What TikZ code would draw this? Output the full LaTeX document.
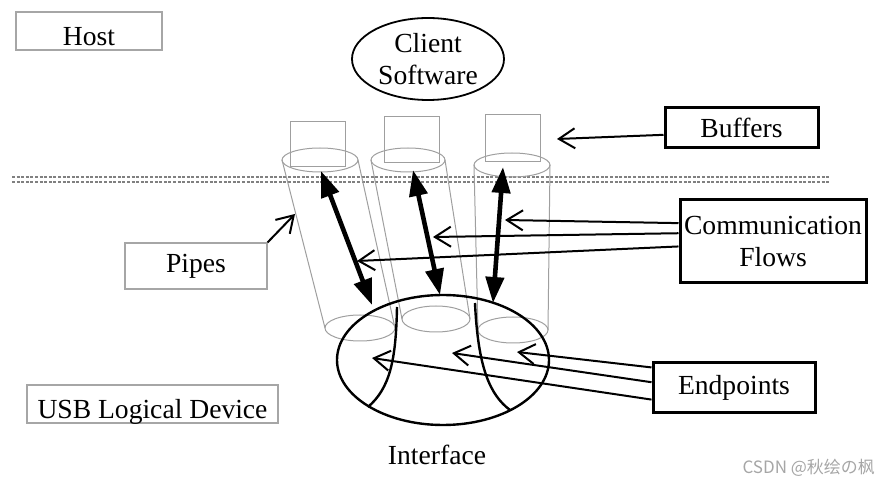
\documentclass[tikz,border=0pt]{standalone}
\usepackage{fontspec}
\setmainfont{Liberation Serif}
\newfontfamily\cjkfont{Noto Sans CJK SC}
\usetikzlibrary{arrows.meta,positioning,shapes.geometric}

\begin{document}
\begin{tikzpicture}[x=0.5pt, y=-0.5pt,
  font=\fontsize{13.8pt}{16pt}\selectfont,
  graybox/.style={draw=gray!70, line width=.6pt, inner sep=0pt},
  lowtext/.style={text height=15pt, text depth=0pt},
  blackbox/.style={draw, line width=1.5pt, inner sep=0pt, align=center},
  pipeline/.style={draw=gray!75, line width=.5pt},
  flowarrow/.style={-{Straight Barb[length=8pt,width=10pt]}, line width=1pt},
  bidir/.style={{Triangle[length=13pt,width=9pt]}-{Triangle[length=13pt,width=9pt]}, line width=2.3pt}]
\useasboundingbox (0,0) rectangle (885,486);

% host / device labels
\node[graybox, lowtext, minimum width=73pt, minimum height=19pt] (host) at (89,31) {Host};
\node[graybox, minimum width=71pt, minimum height=23pt] (pipes) at (196,266) {Pipes};
\node[graybox, lowtext, minimum width=125.5pt, minimum height=19pt] (usbdev) at (152.5,404) {USB Logical Device};
\node[draw, ellipse, line width=.9pt, inner sep=0pt, align=center,
  minimum width=76pt, minimum height=41pt] (client) at (428,59) {Client\\Software};

% right hand labels
\node[blackbox, minimum width=76.5pt, minimum height=20pt] (buffers) at (741.5,128) {Buffers};
\node[blackbox, minimum width=93pt, minimum height=41.5pt] (flows) at (773,241.5) {Communication\\Flows};
\node[blackbox, minimum width=81pt, minimum height=25pt] (endpts) at (734,388) {Endpoints};

% host / device boundary
\draw[gray, line width=.6pt, dash pattern=on 1.5pt off .8pt] (12,177) -- (830,177);
\draw[gray, line width=.6pt, dash pattern=on 1.5pt off .8pt] (12,182) -- (830,182);

% buffers
\draw[pipeline] (290,122) rectangle (345,167);
\draw[pipeline] (384,117) rectangle (439,163);
\draw[pipeline] (485,115) rectangle (540,162);

% pipes
\draw[pipeline] (320,160) ellipse [x radius=19pt, y radius=6pt];
\draw[pipeline] (360,328) ellipse [x radius=17.5pt, y radius=6.5pt];
\draw[pipeline] (282,160) -- (325,328) (358,160) -- (395,328);
\draw[pipeline] (408,160) ellipse [x radius=18.5pt, y radius=6pt];
\draw[pipeline] (436,319) ellipse [x radius=17pt, y radius=6.5pt];
\draw[pipeline] (371,160) -- (402,319) (445,160) -- (470,319);
\draw[pipeline] (512,165) ellipse [x radius=19pt, y radius=6pt];
\draw[pipeline] (513,330) ellipse [x radius=17.5pt, y radius=6.5pt];
\draw[pipeline] (474,165) -- (478,330) (550,165) -- (548,330);

% interface with its endpoints
\node[draw, ellipse, line width=1.2pt, inner sep=0pt,
  minimum width=106pt, minimum height=65pt] (iface) at (443,360) {};
\node (ifacetext) at (437,455) {Interface};
\draw[line width=1.2pt] (397,307) .. controls (396,360) and (390,388) .. (368,407);
\draw[line width=1.2pt] (475,303) .. controls (478,368) and (490,395) .. (510,410);

% arrow ends
\coordinate (t1) at (321,171);
\coordinate (b1) at (372,305);
\coordinate (t2) at (413,170);
\coordinate (b2) at (440,295);
\coordinate (t3) at (503,167);
\coordinate (b3) at (493,303);
\coordinate (bufend) at (557,139);
\coordinate (pipeend) at (295,214);
\coordinate (f1) at (505,220);
\coordinate (f2) at (433,237);
\coordinate (f3) at (357,261);
\coordinate (e1) at (517,352);
\coordinate (e2) at (452,353);
\coordinate (e3) at (372,358);

\draw[bidir] (t1) -- (b1);
\draw[bidir] (t2) -- (b2);
\draw[bidir] (t3) -- (b3);

\draw[flowarrow] (buffers.185) -- (bufend);
\draw[flowarrow] (pipes.north east) -- (pipeend);
\draw[flowarrow] (flows.169) -- (f1);
\draw[flowarrow] (flows.175) -- (f2);
\draw[flowarrow] (flows.183) -- (f3);
\draw[flowarrow] (endpts.166) -- (e1);
\draw[flowarrow] (endpts.176) -- (e2);
\draw[flowarrow] (endpts.188) -- (e3);

\node[anchor=east, text=gray!70, font=\cjkfont\fontsize{8.5pt}{10pt}\selectfont] (mark) at (882,468) {CSDN @秋绘の枫};
\end{tikzpicture}
\end{document}
